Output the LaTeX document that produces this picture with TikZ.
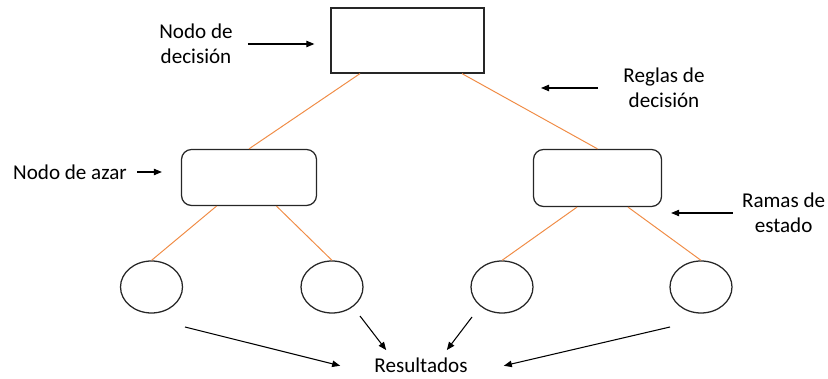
\documentclass[tikz,border=0pt]{standalone}
\usepackage{fontspec}
\setmainfont{Carlito}
\usetikzlibrary{shapes.geometric,arrows.meta}

\definecolor{branchorange}{RGB}{240,140,70}

\begin{document}
\begin{tikzpicture}[
  font=\fontsize{15}{17.8}\selectfont,
  decision/.style={draw=black!85, line width=0.9pt, minimum width=3.825cm, minimum height=1.625cm},
  chance/.style={draw=black!85, line width=0.9pt, rounded corners=0.25cm},
  outcome/.style={ellipse, draw=black!85, line width=0.9pt, minimum width=1.55cm, minimum height=1.3cm, inner sep=0pt},
  lbl/.style={align=center, inner sep=0pt},
  branch/.style={draw=branchorange, line width=0.7pt},
  pointer/.style={-{Triangle[length=2mm,width=1.6mm]}, line width=0.75pt}
]
\useasboundingbox (0,0) rectangle (20.7,9.475);

% Tree
\node[decision] (top) at (10.1875,8.4625) {};
\node[chance, minimum width=3.375cm, minimum height=1.4cm] (left) at (6.225,5.0375) {};
\node[chance, minimum width=3.2cm, minimum height=1.425cm] (right) at (14.9375,5.025) {};

\node[outcome] (c1) at (3.7875,2.3) {};
\node[outcome] (c2) at (8.3,2.3) {};
\node[outcome] (c3) at (12.55,2.3) {};
\node[outcome] (c4) at (17.525,2.3) {};

% Branches
\draw[branch] ([xshift=-11.875mm]top.south) -- (left.north);
\draw[branch] ([xshift=13.625mm]top.south) -- (right.north);
\draw[branch] ([xshift=-8.125mm]left.south) -- (c1.north);
\draw[branch] ([xshift=6.875mm]left.south) -- (c2.north);
\draw[branch] ([xshift=-5.125mm]right.south) -- (c3.north);
\draw[branch] ([xshift=7.625mm]right.south) -- (c4.north);

% Labels
\node[lbl] (decLbl) at (4.9,8.375) {Nodo de\\decisión};
\node[lbl] (regLbl) at (16.6,7.275) {Reglas de\\decisión};
\node[lbl] (azarLbl) at (1.75,5.175) {Nodo de azar};
\node[lbl] (ramLbl) at (19.59,4.15) {Ramas de\\estado};
\node[lbl, anchor=base] (res) at (10.525,0.15) {Resultados};

\coordinate (rulePt) at (13.525,7.275);
\coordinate (o1) at (4.625,1.3);
\coordinate (o2) at (9.0,1.575);
\coordinate (o3) at (11.8,1.55);
\coordinate (o4) at (16.75,1.3);

% Pointers
\draw[pointer] ([xshift=3.75mm]decLbl.east) -- ([xshift=-4mm]decLbl.east -| top.west);
\draw[pointer] ([xshift=-6.25mm]regLbl.west) -- (rulePt);
\draw[pointer] ([xshift=2.5mm]azarLbl.east) -- ([xshift=-4.75mm]azarLbl.east -| left.west);
\draw[pointer] ([xshift=-2.25mm]ramLbl.west) -- ([xshift=2.25mm]ramLbl.west -| right.east);

\draw[pointer] (o1) -- ([xshift=-8.5mm]res.west);
\draw[pointer] (o2) -- ([shift={(0.3,0.2)}]res.north west);
\draw[pointer] (o3) -- ([shift={(-0.525,0.2)}]res.north east);
\draw[pointer] (o4) -- ([xshift=9mm]res.east);

\end{tikzpicture}
\end{document}
